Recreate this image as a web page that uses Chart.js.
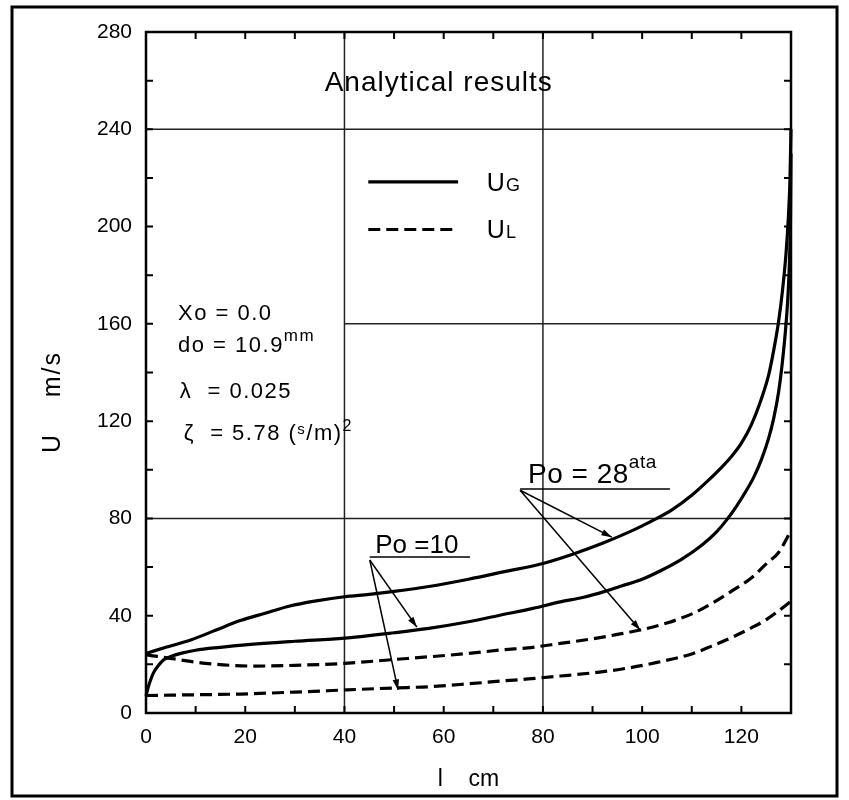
<!DOCTYPE html>
<html>
<head>
<meta charset="utf-8">
<title>Analytical results</title>
<script src="https://cdn.jsdelivr.net/npm/chart.js@4.4.1/dist/chart.umd.min.js"></script>
<style>
  body { margin: 0; background: #fff; }
  canvas { display: block; }
</style>
</head>
<body>
<canvas id="velocity-chart" width="849" height="800"></canvas>
<script>
// Eixos
const xTickLabels = [0, 20, 40, 60, 80, 100, 120];
const yTickLabels = [0, 40, 80, 120, 160, 200, 240, 280];
const xMinorTicks = [0, 10, 20, 30, 40, 50, 60, 70, 80, 90, 100, 110, 120, 130];
const yMinorTicks = [0, 20, 40, 60, 80, 100, 120, 140, 160, 180, 200, 220, 240, 260, 280];

// UG, Po = 28 ata (solid, upper)
const ug28X = [0, 4, 9, 14, 19, 24, 29, 34, 40, 45, 50, 57, 65, 72, 80, 86, 92, 98, 102, 106, 110, 113, 116, 118, 120, 122, 124, 125.5, 126.5, 127.5, 128.3, 129, 129.5, 129.8, 130];
const ug28Y = [24.5, 27, 30, 34, 38, 41, 44, 46, 47.8, 48.8, 50, 52, 55, 58, 61.5, 65.3, 69.8, 75, 79, 83.5, 89.5, 95, 101, 105.5, 111, 118.5, 129, 139, 149, 161, 174, 189, 205, 220, 240];

// UG, Po = 10 ata (solid, lower)
const ug10X = [0, 0.5, 1, 1.5, 2.5, 3.5, 5, 7, 10, 15, 20, 30, 40, 50, 57, 65, 72, 78, 83.5, 88, 92.5, 96, 100, 104, 108, 112, 115, 117, 119, 121, 122.5, 124, 125.5, 126.5, 127.5, 128.3, 129, 129.4, 129.7, 129.9, 130];
const ug10Y = [7, 11, 14, 16.5, 19.5, 21.8, 23.2, 24.5, 25.8, 27, 28, 29.5, 30.8, 33, 34.8, 37.5, 40.5, 43, 45.7, 47.5, 50, 52.3, 55, 58.8, 63.3, 69, 74.5, 79.3, 85, 91.5, 97, 104, 113, 121, 132, 145, 160, 172, 186, 205, 230];

// UL, Po = 28 ata (dashed, upper)
const ul28X = [0, 1, 2.5, 5.5, 9, 12, 17, 22, 30, 40, 50, 57, 65, 72, 77, 83.5, 90, 95, 99.6, 105, 110.3, 114, 118.4, 122, 125.1, 127.5, 130];
const ul28Y = [24, 23.6, 23.2, 22.3, 21.2, 20.4, 19.6, 19.3, 19.6, 20.4, 22, 23.1, 24.5, 26, 26.8, 28.6, 30.5, 32.3, 34.1, 37, 41, 45, 50.6, 55.5, 61.5, 66, 75];

// UL, Po = 10 ata (dashed, lower)
const ul10X = [0, 10, 19, 30, 40.5, 50, 57, 65, 72, 77, 83.5, 90, 96.9, 103, 110.3, 114, 118.4, 122, 125.1, 127.5, 130];
const ul10Y = [7.2, 7.5, 7.8, 8.6, 9.5, 10.3, 10.8, 12, 13.2, 14, 15.2, 16.5, 18.4, 20.8, 24.5, 27.5, 31.4, 35, 38.5, 42, 46];

const FONT = "'Liberation Sans', Arial, sans-serif";

// junta os arrays x e y em pontos
function toPoints(xs, ys) {
  return xs.map((x, i) => ({ x: x, y: ys[i] }));
}

function curve(label, xs, ys, dashed) {
  return {
    label: label,
    data: toPoints(xs, ys),
    showLine: true,
    borderColor: '#000',
    borderWidth: 3.2,
    borderDash: dashed ? [12, 6] : [],
    pointRadius: 0,
    cubicInterpolationMode: 'monotone',
    clip: false,
  };
}

// desenha texto com partes sobrescritas / subscritas
function drawRich(ctx, parts, x, y, spacing) {
  let cx = x;
  ctx.letterSpacing = (spacing || 0) + 'px';
  for (const p of parts) {
    ctx.font = p.size + 'px ' + FONT;
    ctx.fillText(p.t, cx, y - (p.rise || 0));
    cx += ctx.measureText(p.t).width;
  }
  ctx.letterSpacing = '0px';
}

function arrow(ctx, x1, y1, x2, y2) {
  ctx.beginPath();
  ctx.moveTo(x1, y1);
  ctx.lineTo(x2, y2);
  ctx.stroke();
  const a = Math.atan2(y2 - y1, x2 - x1);
  const len = 11;
  ctx.beginPath();
  ctx.moveTo(x2, y2);
  ctx.lineTo(x2 - len * Math.cos(a - 0.3), y2 - len * Math.sin(a - 0.3));
  ctx.lineTo(x2 - len * Math.cos(a + 0.3), y2 - len * Math.sin(a + 0.3));
  ctx.closePath();
  ctx.fill();
}

// Fundo, grade parcial, ticks internos, moldura e anotações
const decorPlugin = {
  id: 'decor',
  beforeDraw(chart) {
    const { ctx } = chart;
    ctx.save();
    ctx.fillStyle = '#fff';
    ctx.fillRect(0, 0, chart.width, chart.height);
    ctx.restore();
  },
  beforeDatasetsDraw(chart) {
    const { ctx, chartArea } = chart;
    const xs = chart.scales.x;
    const ys = chart.scales.y;
    const px = (v) => xs.getPixelForValue(v);
    const py = (v) => ys.getPixelForValue(v);
    ctx.save();
    ctx.strokeStyle = '#222';
    ctx.lineWidth = 1.5;
    // linhas verticais em 40 e 80
    for (const v of [40, 80]) {
      ctx.beginPath();
      ctx.moveTo(px(v), chartArea.top);
      ctx.lineTo(px(v), chartArea.bottom);
      ctx.stroke();
    }
    // linhas horizontais (valor, de, até)
    for (const [v, a, b] of [[240, 0, 130], [160, 40, 130], [80, 0, 130]]) {
      ctx.beginPath();
      ctx.moveTo(px(a), py(v));
      ctx.lineTo(px(b), py(v));
      ctx.stroke();
    }
    // ticks para dentro nos quatro lados
    ctx.strokeStyle = '#000';
    ctx.lineWidth = 2;
    const tl = 7;
    for (const v of xMinorTicks) {
      ctx.beginPath();
      ctx.moveTo(px(v), chartArea.bottom);
      ctx.lineTo(px(v), chartArea.bottom - tl);
      ctx.moveTo(px(v), chartArea.top);
      ctx.lineTo(px(v), chartArea.top + tl);
      ctx.stroke();
    }
    for (const v of yMinorTicks) {
      ctx.beginPath();
      ctx.moveTo(chartArea.left, py(v));
      ctx.lineTo(chartArea.left + tl, py(v));
      ctx.moveTo(chartArea.right, py(v));
      ctx.lineTo(chartArea.right - tl, py(v));
      ctx.stroke();
    }
    ctx.restore();
  },
  afterDraw(chart) {
    const { ctx, chartArea } = chart;
    const xs = chart.scales.x;
    const ys = chart.scales.y;
    const px = (v) => xs.getPixelForValue(v);
    const py = (v) => ys.getPixelForValue(v);
    ctx.save();
    ctx.fillStyle = '#000';
    ctx.strokeStyle = '#000';

    // área do gráfico
    ctx.lineWidth = 2.5;
    ctx.strokeRect(chartArea.left, chartArea.top, chartArea.right - chartArea.left, chartArea.bottom - chartArea.top);

    // moldura externa
    ctx.lineWidth = 3;
    ctx.strokeRect(12, 7, 825, 789);

    // título do eixo y
    ctx.save();
    ctx.translate(53, 402);
    ctx.rotate(-Math.PI / 2);
    ctx.textAlign = 'center';
    ctx.textBaseline = 'middle';
    ctx.font = '25px ' + FONT;
    ctx.letterSpacing = '2px';
    ctx.fillText('U    m/s', 0, 0);
    ctx.restore();

    // título interno
    ctx.textAlign = 'center';
    ctx.textBaseline = 'middle';
    ctx.font = '28px ' + FONT;
    ctx.letterSpacing = '1px';
    ctx.fillText('Analytical results', px(59), py(258.9));
    ctx.letterSpacing = '0px';

    // legenda
    ctx.textAlign = 'left';
    ctx.textBaseline = 'alphabetic';
    ctx.lineWidth = 3.2;
    ctx.beginPath();
    ctx.moveTo(px(44.8), py(218.4));
    ctx.lineTo(px(62.9), py(218.4));
    ctx.stroke();
    ctx.setLineDash([12, 6]);
    ctx.beginPath();
    ctx.moveTo(px(44.8), py(198.8));
    ctx.lineTo(px(62.9), py(198.8));
    ctx.stroke();
    ctx.setLineDash([]);
    drawRich(ctx, [{ t: 'U', size: 25 }, { t: 'G', size: 18 }], px(68.7), py(218.4) + 9, 1);
    drawRich(ctx, [{ t: 'U', size: 25 }, { t: 'L', size: 18 }], px(68.7), py(198.8) + 9, 1);

    // parâmetros
    drawRich(ctx, [{ t: 'Xo = 0.0', size: 22 }], px(6.45), py(161.5), 1.5);
    drawRich(ctx, [{ t: 'do = 10.9', size: 22 }, { t: 'mm', size: 17, rise: 11 }], px(6.45), py(148.4), 1.5);
    drawRich(ctx, [{ t: 'λ  = 0.025', size: 22 }], px(6.8), py(129.5), 1.5);
    drawRich(ctx, [
      { t: 'ζ  = 5.78 (', size: 22 },
      { t: 's', size: 15, rise: 6 },
      { t: '/m)', size: 22 },
      { t: '2', size: 16, rise: 9 },
    ], px(7.6), py(112.2), 1.5);

    // Po = 28 ata
    drawRich(ctx, [{ t: 'Po = 28', size: 28 }, { t: 'ata', size: 19, rise: 15 }], px(77), py(94.5), 0.5);
    ctx.lineWidth = 1.5;
    ctx.beginPath();
    ctx.moveTo(px(75.4), py(92.1));
    ctx.lineTo(px(105.6), py(92.1));
    ctx.stroke();
    arrow(ctx, px(75.4), py(91.6), px(93.9), py(72.3));
    arrow(ctx, px(75.4), py(91.6), px(99.6), py(34.1));

    // Po = 10
    drawRich(ctx, [{ t: 'Po =10', size: 26 }], px(46.2), py(65.8));
    ctx.beginPath();
    ctx.moveTo(px(45.1), py(64.1));
    ctx.lineTo(px(65.3), py(64.1));
    ctx.stroke();
    arrow(ctx, px(45.1), py(62.9), px(54.6), py(35.3));
    arrow(ctx, px(45.1), py(62.9), px(50.8), py(9.5));

    ctx.restore();
  },
};

const chartCanvas = document.getElementById('velocity-chart');

const velocityChart = new Chart(chartCanvas, {
  type: 'scatter',
  data: {
    datasets: [
      curve('UG Po=28', ug28X, ug28Y, false),
      curve('UG Po=10', ug10X, ug10Y, false),
      curve('UL Po=28', ul28X, ul28Y, true),
      curve('UL Po=10', ul10X, ul10Y, true),
    ],
  },
  options: {
    responsive: false,
    animation: false,
    layout: { padding: { left: 0, right: 58, top: 32, bottom: 0 } },
    plugins: {
      legend: { display: false },
      tooltip: { enabled: false },
    },
    scales: {
      x: {
        type: 'linear',
        min: 0,
        max: 130,
        grid: { display: false, drawTicks: false },
        border: { display: false },
        afterBuildTicks: (scale) => {
          scale.ticks = xTickLabels.map((v) => ({ value: v }));
        },
        afterFit: (scale) => {
          scale.height = 87;
        },
        ticks: {
          color: '#000',
          padding: 12,
          maxRotation: 0,
          font: { family: FONT, size: 21 },
        },
        title: {
          display: true,
          text: 'l    cm',
          color: '#000',
          font: { family: FONT, size: 23 },
          padding: { top: 0, bottom: 7 },
        },
      },
      y: {
        type: 'linear',
        min: 0,
        max: 280,
        grid: { display: false, drawTicks: false },
        border: { display: false },
        afterBuildTicks: (scale) => {
          scale.ticks = yTickLabels.map((v) => ({ value: v }));
        },
        afterFit: (scale) => {
          scale.width = 146;
        },
        ticks: {
          color: '#000',
          padding: 14,
          font: { family: FONT, size: 21 },
        },
      },
    },
  },
  plugins: [decorPlugin],
});
</script>
</body>
</html>
